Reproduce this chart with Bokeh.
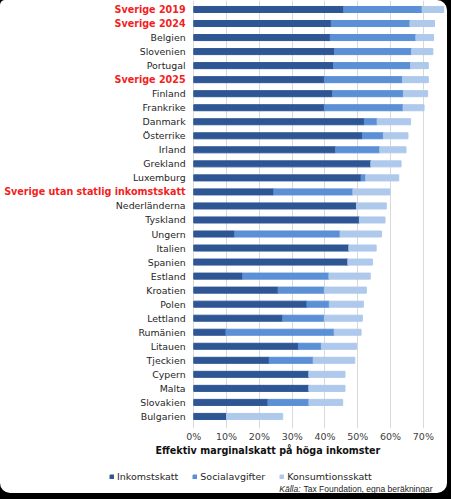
from bokeh.plotting import figure
from bokeh.layouts import column
from bokeh.models import (ColumnDataSource, Range1d, FixedTicker, Title, Legend, LegendItem, Label)
from bokeh.core.properties import value
from bokeh.embed import file_html
from bokeh.resources import INLINE

countries = ["Sverige 2019", "Sverige 2024", "Belgien", "Slovenien", "Portugal",
             "Sverige 2025", "Finland", "Frankrike", "Danmark", "Österrike",
             "Irland", "Grekland", "Luxemburg", "Sverige utan statlig inkomstskatt",
             "Nederländerna", "Tyskland", "Ungern", "Italien", "Spanien", "Estland",
             "Kroatien", "Polen", "Lettland", "Rumänien", "Litauen", "Tjeckien",
             "Cypern", "Malta", "Slovakien", "Bulgarien"]
inkomstskatt = [45.7, 41.9, 41.6, 42.9, 42.6, 39.8, 42.3, 39.8, 52.0, 51.4,
                43.2, 54.0, 51.0, 24.4, 49.6, 50.5, 12.5, 47.3, 47.0, 14.9,
                25.7, 34.5, 27.1, 9.8, 31.9, 23.0, 35.1, 35.1, 22.6, 10.0]
socialavgifter = [23.9, 24.0, 26.1, 23.5, 23.5, 23.8, 21.6, 24.0, 3.9, 6.4,
                  13.5, 0.0, 1.4, 24.1, 0.0, 0.0, 32.1, 0.0, 0.0, 26.3,
                  14.1, 6.8, 12.7, 33.0, 7.0, 13.4, 0.0, 0.0, 12.5, 0.0]
konsumtionsskatt = [6.6, 7.5, 5.4, 6.5, 5.4, 7.9, 7.4, 6.4, 10.2, 7.5,
                    8.0, 9.2, 10.1, 11.3, 9.1, 7.8, 12.6, 8.3, 7.5, 12.6,
                    12.8, 10.4, 11.6, 8.2, 10.7, 12.7, 11.0, 11.0, 10.3, 17.1]
highlighted = ["Sverige 2019", "Sverige 2024", "Sverige 2025",
               "Sverige utan statlig inkomstskatt"]
series_names = ["Inkomstskatt", "Socialavgifter", "Konsumtionsskatt"]
tick_values = [0, 10, 20, 30, 40, 50, 60, 70]
tick_labels = ["0%", "10%", "20%", "30%", "40%", "50%", "60%", "70%"]
axis_title = "Effektiv marginalskatt på höga inkomster"
source_prefix = "Källa:"
source_text = "Tax Foundation, egna beräkningar"

colors = ["#2e5694", "#5b8fd6", "#aec9eb"]
FONT = "DejaVu Sans"

n = len(countries)
source = ColumnDataSource(dict(y=list(range(n)), country=countries,
                               Inkomstskatt=inkomstskatt,
                               Socialavgifter=socialavgifter,
                               Konsumtionsskatt=konsumtionsskatt))

# ---- main chart ----
p = figure(width=447, height=458, output_backend="svg", toolbar_location=None,
           x_range=Range1d(-58.93, 77.35), y_range=Range1d(29.86, -0.641),
           y_axis_location=None,
           min_border_left=0, min_border_right=0, min_border_top=0, min_border_bottom=30)
p.outline_line_color = None
p.background_fill_color = None
p.border_fill_color = None
p.ygrid.visible = False
p.xgrid.grid_line_color = "#d9d9d9"
p.xgrid.grid_line_width = 1
p.styles = {"background-color": "white",
            "border-top-left-radius": "5px", "border-top-right-radius": "10px",
            "overflow": "hidden"}

ticker = FixedTicker(ticks=tick_values)
p.xaxis.ticker = ticker
p.xgrid.ticker = ticker
p.xaxis.major_label_overrides = {v: l for v, l in zip(tick_values, tick_labels)}
p.xaxis.axis_line_color = None
p.xaxis.major_tick_line_color = None
p.xaxis.minor_tick_line_color = None
p.xaxis.major_tick_out = 0
p.xaxis.major_tick_in = 0
p.xaxis.major_label_standoff = 2
p.xaxis.major_label_text_font = FONT
p.xaxis.major_label_text_font_size = "9.5px"
p.xaxis.major_label_text_color = "#404040"

renderers = p.hbar_stack(series_names, y="y", height=0.43, color=colors, source=source)

normal = [c for c in countries if c not in highlighted]
hl = [c for c in countries if c in highlighted]
src_n = ColumnDataSource(dict(y=[countries.index(c) for c in normal], t=normal))
src_h = ColumnDataSource(dict(y=[countries.index(c) for c in hl], t=hl))
p.text(x=-2.5, y="y", text="t", source=src_n, text_align="right", text_baseline="middle",
       text_font=value(FONT), text_font_size="9.4px", text_color="#262626")
p.text(x=-2.5, y="y", text="t", source=src_h, text_align="right", text_baseline="middle",
       text_font=value(FONT), text_font_size="9.6px", text_font_style="bold",
       text_color="#f21f1f")

t = Title(text=axis_title, align="left", offset=155, standoff=-3, text_font=FONT,
          text_font_size="9.6px", text_font_style="bold", text_color="#111111")
p.add_layout(t, "below")

# ---- legend + source strip ----
p2 = figure(width=447, height=35, output_backend="svg", toolbar_location=None,
            x_range=Range1d(0, 1), y_range=Range1d(0, 1),
            x_axis_location=None, y_axis_location=None,
            min_border_left=0, min_border_right=0, min_border_top=0, min_border_bottom=0)
p2.outline_line_color = None
p2.grid.visible = False
p2.background_fill_color = None
p2.border_fill_color = None
p2.styles = {"background-color": "white",
             "border-bottom-left-radius": "10px", "border-bottom-right-radius": "10px",
             "overflow": "hidden"}
# legend proxies: glyphs sit outside the visible range, only their legend swatches show
proxies = [p2.hbar(y=[-5], right=[0.5], height=0.5, color=c) for c in colors]

legend = Legend(items=[LegendItem(label=nm, renderers=[r]) for nm, r in zip(series_names, proxies)],
                orientation="horizontal", location=(109, 11), glyph_width=5, glyph_height=5,
                label_standoff=3, spacing=14, padding=0, margin=0,
                label_text_font=FONT, label_text_font_size="9.5px", label_text_color="#262626",
                background_fill_alpha=0, border_line_color=None)
p2.add_layout(legend, "center")

p2.add_layout(Label(x=300, y=5, x_units="screen", y_units="screen", text=source_prefix,
                    text_align="right", text_baseline="middle", text_font="Liberation Sans",
                    text_font_size="8.5px", text_font_style="italic", text_color="#222222"))
p2.add_layout(Label(x=303, y=5, x_units="screen", y_units="screen", text=source_text,
                    text_align="left", text_baseline="middle", text_font="Liberation Sans",
                    text_font_size="8.5px", text_color="#222222"))

layout = column(p, p2, width=451, height=499, spacing=0,
                styles={"background-color": "black"})
open("out.html", "w").write(file_html(layout, INLINE))
